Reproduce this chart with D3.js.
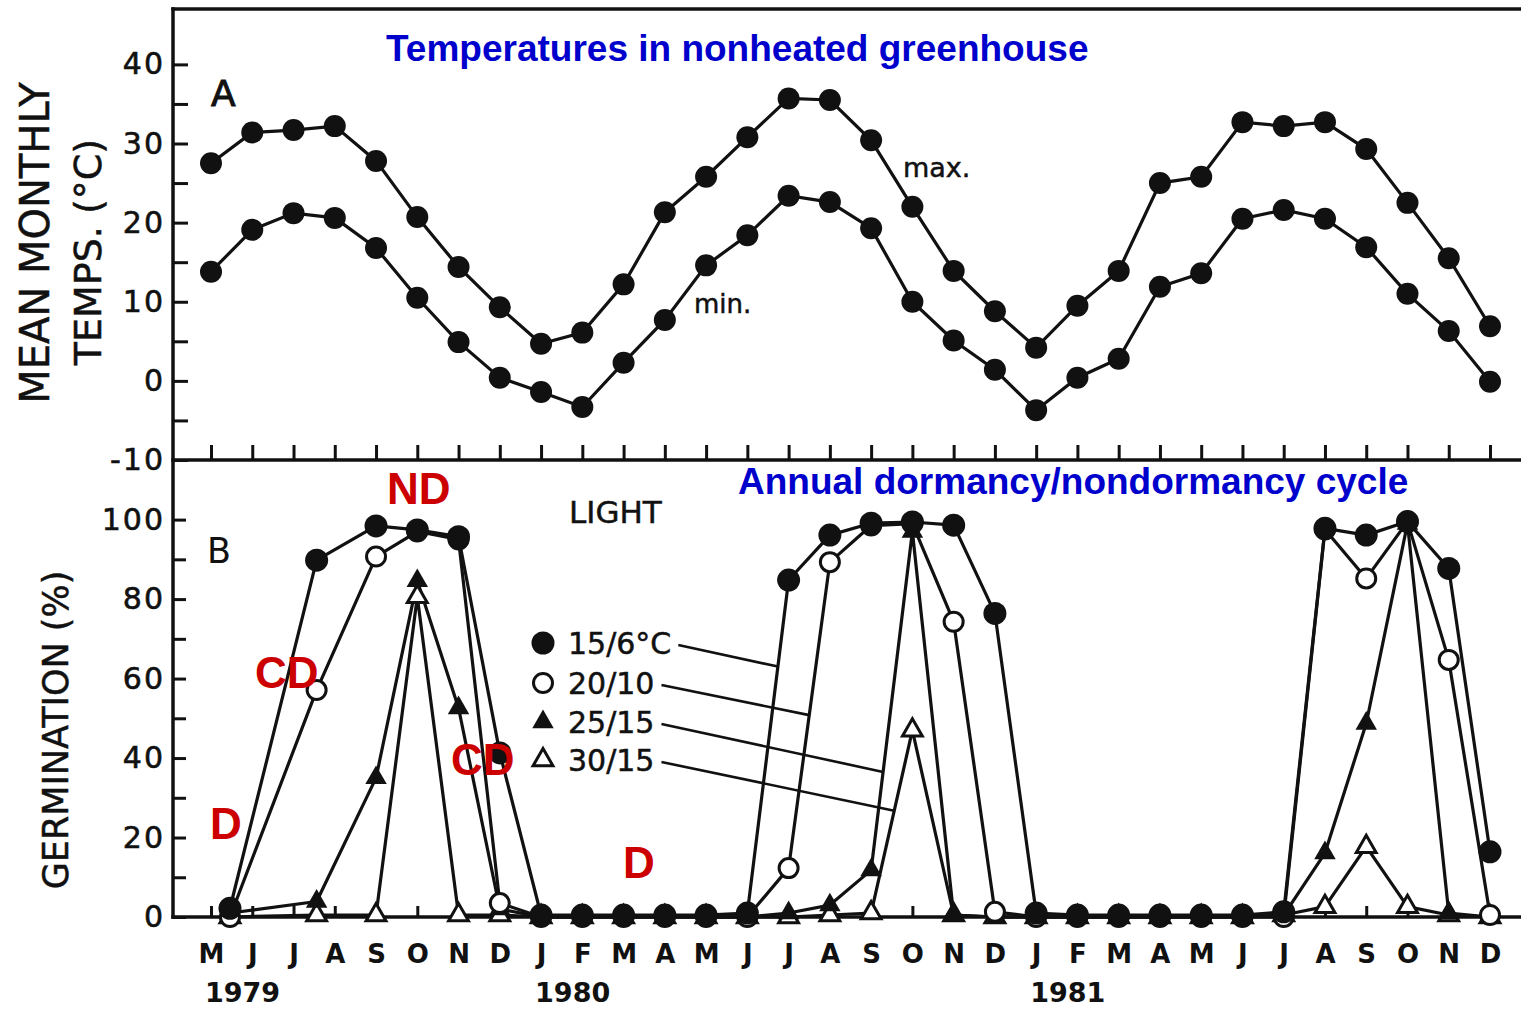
<!DOCTYPE html>
<html>
<head>
<meta charset="utf-8">
<script src="https://cdn.jsdelivr.net/npm/d3@7"></script>
<style>
  html, body { margin: 0; padding: 0; background: #fff; }
  svg { display: block; }
  text { font-family: "DejaVu Sans", sans-serif; }
</style>
</head>
<body>
<script>
// ---------------- DATA ----------------
const monthLabels = ["M","J","J","A","S","O","N","D","J","F","M","A","M","J","J","A","S","O","N","D","J","F","M","A","M","J","J","A","S","O","N","D"];
const yearLabels = ["1979", "1980", "1981"];
const yearStartMonth = [0, 8, 20];

// Panel A: mean monthly temperatures (°C), May 1979 .. Dec 1981
const tempMax = [27.5,31.4,31.7,32.2,27.8,20.7,14.4,9.3, 4.7,6.1,12.2,21.3,25.8,30.8,35.7,35.5,30.4,22.0,13.9,8.8, 4.2,9.5,13.9,25.0,25.8,32.7,32.2,32.7,29.3,22.5,15.5,6.9];
const tempMin = [13.8,19.1,21.2,20.6,16.8,10.5,4.9,0.4, -1.4,-3.3,2.3,7.7,14.6,18.4,23.4,22.6,19.3,10.0,5.1,1.4, -3.7,0.4,2.8,11.9,13.6,20.5,21.6,20.5,16.9,11.0,6.3,-0.1];
const tempTicks = [-10,-5,0,5,10,15,20,25,30,35,40];

// Panel B: germination (%) in light; sampling time in months from May 1979
const germMonths = [0.46,2.56,4,5,6,7, 8,9,10,11,12,13,14,15,16,17,18,19, 20,21,22,23,24,25,26,27,28,29,30,31];
const g15_6  = [2.2,89.8,98.4,97.4,95.7,41.3, 0.5,0.5,0.5,0.5,0.5,1,84.8,96.1,99.1,99.4,98.6,76.4, 1,0.5,0.5,0.5,0.5,0.5,1.3,97.8,96.1,99.5,87.7,16.4];
const g20_10 = [0,57.1,90.7,97,95,3.5, 0,0,0,0,0,0,12.3,89.3,98.5,99,74.3,1.3, 0,0,0,0,0,0,0,97.5,85.2,99.5,64.7,0.5];
const g25_15 = [1,3.9,35,84.6,52.6,2, 0,0,0,0,0,0,1,3,11.8,97,0.5,0, 0,0,0,0,0,0,0.5,16.1,48.7,99,1,0];
const g30_15 = [0,0.5,0.5,80.6,0.5,0.5, 0,0,0,0,0,0,0,0.5,1,47,0.5,0, 0,0,0,0,0,0,0.5,2.6,17.7,2.6,0.5,0];
const germTicks = [0,10,20,30,40,50,60,70,80,90,100];
const legendLabels = ["15/6°C", "20/10", "25/15", "30/15"];
const legendLeaderMonth = [13.74, 14.5, 16.29, 16.56];

// ---------------- DRAWING ----------------
const W = 1521, H = 1009;
const INK = "#111";
const svg = d3.select("body").append("svg").attr("width", W).attr("height", H);
svg.append("rect").attr("width", W).attr("height", H).style("fill", "#fff");

const x  = d3.scaleLinear().domain([0, 31]).range([211, 1490]);
const yA = d3.scaleLinear().domain([-10, 47]).range([460, 9]);
const yB = d3.scaleLinear().domain([0, 115]).range([917, 460]);
const left = 173, right = 1521;

// frame
const frame = svg.append("g").attr("stroke", INK).attr("stroke-width", 3.5).attr("stroke-linecap", "square");
frame.append("line").attr("x1", left).attr("x2", right).attr("y1", yA.range()[1]).attr("y2", yA.range()[1]);
frame.append("line").attr("x1", left).attr("x2", right).attr("y1", yA(-10)).attr("y2", yA(-10));
frame.append("line").attr("x1", left).attr("x2", right).attr("y1", yB(0)).attr("y2", yB(0));
frame.append("line").attr("x1", left).attr("x2", left).attr("y1", yA.range()[1]).attr("y2", yB(0));

function styleAxis(g) {
  g.select(".domain").remove();
  g.selectAll(".tick line").attr("stroke", INK).attr("stroke-width", 3);
  g.selectAll(".tick text").style("fill", INK).style("font-family", "DejaVu Sans")
    .attr("stroke", INK).attr("stroke-width", 0.6);
}

// Panel A axes
svg.append("g").attr("transform", `translate(${left},0)`)
  .call(d3.axisLeft(yA).tickValues(tempTicks).tickSizeInner(-15).tickSizeOuter(0).tickPadding(8)
    .tickFormat(d => d % 10 === 0 ? (d < 0 ? "-" + Math.abs(d) : String(d)) : ""))
  .call(styleAxis)
  .call(g => g.selectAll(".tick text").style("font-size", "30px").style("letter-spacing", "2px"));

svg.append("g").attr("transform", `translate(0,${yA(-10)})`)
  .call(d3.axisTop(x).tickValues(d3.range(0, 32)).tickSizeInner(15).tickSizeOuter(0).tickFormat(""))
  .call(styleAxis);

// Panel B axes
svg.append("g").attr("transform", `translate(${left},0)`)
  .call(d3.axisLeft(yB).tickValues(germTicks).tickSizeInner(-13).tickSizeOuter(0).tickPadding(8)
    .tickFormat(d => d % 20 === 0 ? String(d) : ""))
  .call(styleAxis)
  .call(g => g.selectAll(".tick text").style("font-size", "30px").style("letter-spacing", "2px"));

svg.append("g").attr("transform", `translate(0,${yB(0)})`)
  .call(d3.axisTop(x).tickValues(d3.range(0, 32)).tickSizeInner(11).tickSizeOuter(0).tickFormat(""))
  .call(styleAxis);

svg.append("g").attr("transform", `translate(0,${yB(0)})`)
  .call(d3.axisBottom(x).tickValues(d3.range(0, 32)).tickSize(0).tickPadding(28).tickFormat(i => monthLabels[i]))
  .call(g => g.select(".domain").remove())
  .call(g => g.selectAll(".tick text").style("fill", INK).style("font-family", "DejaVu Sans")
    .style("font-size", "26px").style("font-weight", "bold"));

// years
svg.append("g").selectAll("text").data(yearLabels).join("text")
  .attr("x", (d, i) => x(yearStartMonth[i]) - 6).attr("y", 1002)
  .style("fill", INK).style("font-size", "27px").style("font-weight", "bold").text(d => d);

// axis titles
function vtitle(txt, cx, cy, fs) {
  svg.append("text").attr("transform", `translate(${cx},${cy}) rotate(-90)`)
    .attr("text-anchor", "middle").attr("dominant-baseline", "central")
    .style("fill", INK).style("font-size", fs + "px").attr("stroke", INK).attr("stroke-width", 0.5).text(txt);
}
vtitle("MEAN MONTHLY", 35, 243, 40);
vtitle("TEMPS. (°C)", 88, 252, 38);
vtitle("GERMINATION (%)", 56, 730, 35);

// panel letters
svg.append("text").attr("x", 211).attr("y", 106).style("fill", INK).style("font-size", "36px").attr("stroke", INK).attr("stroke-width", 1).text("A");
svg.append("text").attr("x", 207).attr("y", 563).style("fill", INK).style("font-size", "35px").text("B");

// Panel A lines & markers
const lineA = d3.line().x((d, i) => x(i)).y(d => yA(d));
[tempMax, tempMin].forEach(s => {
  svg.append("path").datum(s).attr("d", lineA).style("fill", "none").attr("stroke", INK).attr("stroke-width", 3.2);
});
[tempMax, tempMin].forEach(s => {
  svg.append("g").selectAll("circle").data(s).join("circle")
    .attr("cx", (d, i) => x(i)).attr("cy", d => yA(d)).attr("r", 11).style("fill", INK);
});
svg.append("text").attr("x", 903).attr("y", 177).style("fill", INK).style("font-size", "27px").attr("stroke", INK).attr("stroke-width", 0.5).text("max.");
svg.append("text").attr("x", 694).attr("y", 313).style("fill", INK).style("font-size", "26px").attr("stroke", INK).attr("stroke-width", 0.5).text("min.");

// Panel B lines & markers
const series = [
  { vals: g30_15, type: "triOpen" },
  { vals: g25_15, type: "triFilled" },
  { vals: g20_10, type: "circOpen" },
  { vals: g15_6,  type: "circFilled" }
];
const lineB = d3.line().x((d, i) => x(germMonths[i])).y(d => yB(d));
series.forEach(s => {
  svg.append("path").datum(s.vals).attr("d", lineB).style("fill", "none")
    .attr("stroke", INK).attr("stroke-width", 3.2).attr("stroke-linejoin", "round");
});
const triFilled = d3.symbol(d3.symbolTriangle, 200)();
const triOpen = d3.symbol(d3.symbolTriangle, 170)();
function drawMarker(sel, type) {
  if (type === "circFilled") sel.append("circle").attr("r", 11.5).style("fill", INK);
  else if (type === "circOpen") sel.append("circle").attr("r", 9.5).style("fill", "#fff").attr("stroke", INK).attr("stroke-width", 3);
  else if (type === "triFilled") sel.append("path").attr("d", triFilled).style("fill", INK);
  else sel.append("path").attr("d", triOpen).style("fill", "#fff").attr("stroke", INK).attr("stroke-width", 3).attr("stroke-linejoin", "miter");
}
series.forEach(s => {
  svg.append("g").selectAll("g").data(s.vals).join("g")
    .attr("transform", (d, i) => `translate(${x(germMonths[i])},${yB(d)})`)
    .each(function () { drawMarker(d3.select(this), s.type); });
});

// legend
svg.append("text").attr("x", 569).attr("y", 523).style("fill", INK).style("font-size", "31px").attr("stroke", INK).attr("stroke-width", 0.5).text("LIGHT");
const legendOrder = [g15_6, g20_10, g25_15, g30_15];
const legendTypes = ["circFilled", "circOpen", "triFilled", "triOpen"];
const legendY = [643, 683, 722, 760];
legendLabels.forEach((lab, i) => {
  const g = svg.append("g").attr("transform", `translate(543,${legendY[i]})`);
  drawMarker(g, legendTypes[i]);
  const t = svg.append("text").attr("x", 568).attr("y", legendY[i] + 11).style("fill", INK).style("font-size", "30px")
    .attr("stroke", INK).attr("stroke-width", 0.5).text(lab);
  const tw = t.node().getComputedTextLength();
  const interp = d3.scaleLinear().domain(germMonths).range(legendOrder[i]);
  const m = legendLeaderMonth[i];
  svg.append("line").attr("x1", 568 + tw + 7).attr("y1", legendY[i] + 2)
    .attr("x2", x(m)).attr("y2", yB(interp(m)))
    .attr("stroke", INK).attr("stroke-width", 2.6);
});

// overlay annotations (blue titles, red phase labels)
const ANNOT_FONT = "'Liberation Sans', Arial, sans-serif";
svg.append("text").attr("x", 386).attr("y", 61).style("font-family", ANNOT_FONT)
  .style("font-weight", "bold").style("font-size", "37px").style("fill", "#0000CC").text("Temperatures in nonheated greenhouse");
svg.append("text").attr("x", 738).attr("y", 494).style("font-family", ANNOT_FONT)
  .style("font-weight", "bold").style("font-size", "37px").style("fill", "#0000CC").text("Annual dormancy/nondormancy cycle");
const redLabels = [["ND", 387, 504], ["CD", 255, 688], ["CD", 451, 775], ["D", 210, 839], ["D", 623, 878]];
redLabels.forEach(([t, lx, ly]) => {
  svg.append("text").attr("x", lx).attr("y", ly).style("font-family", ANNOT_FONT)
    .style("font-weight", "bold").style("font-size", "44px").style("fill", "#CC0000").text(t);
});
</script>
</body>
</html>
